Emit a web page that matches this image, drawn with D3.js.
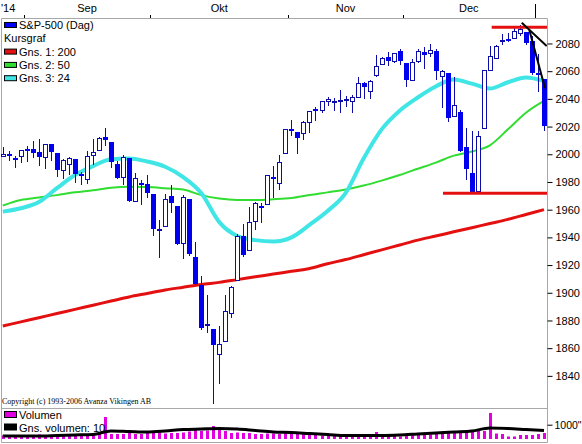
<!DOCTYPE html>
<html>
<head>
<meta charset="utf-8">
<script src="https://cdn.jsdelivr.net/npm/d3@7"></script>
<style>
  body { margin: 0; background: white; }
  text { font-family: "Liberation Sans", Arial, sans-serif; font-size: 11px; fill: #000; }
  .copy { font-family: "Liberation Serif", serif; font-size: 8px; }
</style>
</head>
<body>
<script>
// S&P-500 daily candles, Aug 2014 - Jan 2015, with moving averages and volume

// trading days shown in the chart
var days = [
  "2014-08-26","2014-08-27","2014-08-28","2014-08-29",
  "2014-09-02","2014-09-03","2014-09-04","2014-09-05","2014-09-08","2014-09-09","2014-09-10","2014-09-11","2014-09-12",
  "2014-09-15","2014-09-16","2014-09-17","2014-09-18","2014-09-19","2014-09-22","2014-09-23","2014-09-24","2014-09-25",
  "2014-09-26","2014-09-29","2014-09-30",
  "2014-10-01","2014-10-02","2014-10-03","2014-10-06","2014-10-07","2014-10-08","2014-10-09","2014-10-10","2014-10-13",
  "2014-10-14","2014-10-15","2014-10-16","2014-10-17","2014-10-20","2014-10-21","2014-10-22","2014-10-23","2014-10-24",
  "2014-10-27","2014-10-28","2014-10-29","2014-10-30","2014-10-31",
  "2014-11-03","2014-11-04","2014-11-05","2014-11-06","2014-11-07","2014-11-10","2014-11-11","2014-11-12","2014-11-13",
  "2014-11-14","2014-11-17","2014-11-18","2014-11-19","2014-11-20","2014-11-21","2014-11-24","2014-11-25","2014-11-26",
  "2014-11-28",
  "2014-12-01","2014-12-02","2014-12-03","2014-12-04","2014-12-05","2014-12-08","2014-12-09","2014-12-10","2014-12-11",
  "2014-12-12","2014-12-15","2014-12-16","2014-12-17","2014-12-18","2014-12-19","2014-12-22","2014-12-23","2014-12-24",
  "2014-12-26","2014-12-29","2014-12-30","2014-12-31",
  "2015-01-02","2015-01-05"
];

var open = [
  1998.6,2000.5,1997.4,1998.5,
  2004.1,2003.6,2001.7,1998.0,2007.2,2000.7,1988.4,1992.9,1996.7,
  1986.0,1981.9,1999.3,2003.1,2012.7,2009.1,1992.8,1983.3,1997.3,
  1966.2,1979.0,1978.2,
  1971.4,1945.8,1948.1,1970.0,1962.4,1935.6,1967.7,1925.6,1905.7,
  1877.1,1874.2,1856.0,1864.9,1885.6,1909.4,1941.3,1931.0,1951.6,
  1963.0,1964.1,1983.3,1979.5,2001.2,
  2018.2,2015.8,2015.3,2023.3,2032.4,2032.0,2038.2,2037.8,2039.2,
  2039.7,2038.3,2041.5,2051.2,2045.9,2057.5,2065.1,2070.2,2067.4,
  2074.8,
  2065.8,2053.8,2067.5,2073.6,2072.8,2074.8,2056.6,2058.9,2027.9,
  2030.4,2005.0,1986.7,1973.8,2019.0,2061.0,2069.3,2081.5,2083.3,
  2084.3,2087.6,2088.5,2082.1,
  2058.9,2054.4
];

var high = [
  2005.0,2002.1,1998.6,2003.4,
  2006.1,2009.3,2011.2,2007.7,2007.2,2001.0,1996.7,1997.7,1996.7,
  1987.2,2002.3,2010.7,2012.3,2019.3,2009.1,1995.4,1999.8,1997.3,
  1986.4,1981.3,1985.2,
  1971.4,1952.3,1971.2,1977.8,1962.4,1970.4,1967.7,1937.0,1912.1,
  1898.7,1874.2,1876.0,1898.2,1905.0,1942.5,1949.3,1962.0,1965.3,
  1964.6,1985.1,1991.4,1999.4,2018.2,
  2024.5,2016.0,2023.8,2031.6,2034.3,2038.7,2041.3,2040.3,2046.2,
  2042.2,2043.1,2056.1,2052.1,2053.8,2071.5,2070.2,2074.2,2073.3,
  2075.8,
  2065.8,2068.8,2076.3,2077.3,2079.5,2075.8,2060.6,2058.9,2055.5,
  2032.3,2018.7,2016.9,2016.8,2061.2,2077.9,2078.8,2086.7,2087.6,
  2092.7,2093.6,2088.5,2085.6,
  2072.4,2054.4
];

var low = [
  1998.6,1996.2,1990.5,1994.7,
  1994.9,1998.1,1992.4,1990.1,1995.6,1984.6,1983.0,1985.9,1980.3,
  1978.5,1979.1,1993.3,2003.1,2006.6,1991.0,1982.8,1978.6,1966.0,
  1966.2,1964.0,1969.0,
  1941.7,1926.0,1948.1,1958.4,1935.1,1925.3,1927.6,1906.1,1874.1,
  1871.8,1820.7,1835.0,1864.9,1882.3,1909.4,1926.8,1931.0,1946.3,
  1951.4,1964.1,1969.0,1974.8,2001.2,
  2013.7,2001.0,2010.9,2015.9,2025.1,2030.2,2035.3,2032.0,2030.4,
  2035.2,2030.2,2041.5,2040.4,2040.5,2056.8,2065.1,2064.8,2066.6,
  2065.1,
  2049.6,2053.8,2066.7,2062.3,2070.8,2054.3,2034.2,2024.3,2027.9,
  2002.3,1982.3,1972.6,1973.8,2019.0,2061.0,2069.3,2079.8,2081.9,
  2084.3,2085.8,2079.5,2057.9,
  2046.0,2017.3
];

var close = [
  2000.0,2000.1,1996.7,2003.4,
  2002.3,2000.7,1997.7,2007.7,2001.5,1988.4,1995.7,1997.5,1985.5,
  1984.1,1999.0,2001.6,2011.4,2010.4,1994.3,1982.8,1998.3,1966.0,
  1982.9,1977.8,1972.3,
  1946.2,1946.2,1967.9,1964.8,1935.1,1968.9,1928.2,1906.1,1874.7,
  1877.7,1862.5,1862.8,1886.8,1904.0,1941.3,1927.1,1950.8,1964.6,
  1961.6,1985.1,1982.3,1994.7,2018.1,
  2017.8,2012.1,2023.6,2031.2,2031.9,2038.3,2039.7,2038.3,2039.3,
  2039.8,2041.3,2051.8,2048.7,2052.8,2063.5,2069.4,2067.0,2072.8,
  2067.6,
  2053.4,2066.6,2074.3,2071.9,2075.4,2060.3,2059.8,2026.1,2035.3,
  2002.3,1989.6,1972.7,2012.9,2061.2,2070.7,2078.5,2082.2,2081.9,
  2088.8,2090.6,2080.4,2058.9,
  2058.2,2020.6
];

// volume (same unit as the 1000" mark on the volume axis)
var volume = [
  245,245,245,245,
  280,280,315,280,280,315,280,280,315,
  315,350,350,350,1540,350,350,350,420,
  350,350,420,
  455,455,385,420,420,455,525,630,560,
  595,910,700,560,420,455,420,420,350,
  350,385,385,350,490,
  350,350,350,280,315,245,210,245,280,
  245,280,280,245,280,490,350,350,280,
  175,
  350,350,350,350,315,385,385,420,420,
  490,525,560,560,560,1820,385,350,175,
  175,280,280,280,
  350,420
];

// moving averages, one value every third trading day
var ma200 = [1876,1879,1882,1885,1888,1891,1894,1897,1899.5,1902,1904,1906,1907.5,1909.5,1911.5,1913.5,
  1915.5,1917.5,1921,1924,1927.5,1931,1934.5,1938,1941,1944,1947,1950,1953,1956.5,1960];
var ma50 = [1963,1967,1968.8,1970.5,1972.5,1974,1975.8,1976.5,1976.3,1975.5,1974.5,1970.5,1968,1967,1967,1967.5,
  1968.4,1970.6,1972.5,1974.5,1977.4,1981,1985,1989.5,1994,1999,2002,2006.5,2018,2030,2038.5];
var ma24 = [1958.6,1961,1965.5,1975.5,1985,1991.5,1996.4,1997,1994.8,1991,1983.5,1972,1951,1941,1938,1937,
  1940,1949,1959,1972,1997,2018,2031.5,2041,2049,2054,2051,2047.5,2052,2055.5,2053];
var volMa10 = [210,210,210,245,280,315,559,524,490,559,664,699,734,699,594,490,
  455,385,315,245,245,245,280,350,420,490,559,769,734,664,594];

// month labels on the top axis and the first trading day of each month
var monthNames = ["Sep", "Okt", "Nov", "Dec"];
var monthFirst = ["2014-09-02", "2014-10-01", "2014-11-03", "2014-12-01", "2015-01-02"];
var yearLabel = "'14";

// hand drawn support / resistance lines [day position, price]
var supportLine = [[73.2, 1971.8], [90.5, 1971.8]];
var resistLine = [[81.3, 2091.7], [90.5, 2091.7]];
var trendLines = [
  [[86.3, 2095.0], [90.45, 2078.2]],
  [[87.56, 2089.7], [90.17, 2047.7]]
];

var priceTicks = d3.range(1840, 2081, 20);

// svg layout
var width = 582, height = 444;
var left = 1, right = 547, priceTop = 18, priceBottom = 408, volBottom = 442;

var svg = d3.select("body").append("svg")
  .attr("width", width)
  .attr("height", height)
  .style("background", "white");

// scales
var x = d3.scaleLinear().domain([0, days.length - 1]).range([2.8, 544]);
var y = d3.scaleLinear().domain([1816.8, 2098.4]).range([priceBottom, priceTop]);
var yVol = d3.scaleLinear().domain([0, 1000]).range([439, 424.7]);

var sampleIdx = days.map(function (d, i) { return i; }).filter(function (i) { return i % 3 === 0; });

svg.append("clipPath").attr("id", "priceClip")
  .append("rect").attr("x", left).attr("y", priceTop).attr("width", right - left).attr("height", priceBottom - priceTop);
svg.append("clipPath").attr("id", "volClip")
  .append("rect").attr("x", left).attr("y", priceBottom).attr("width", right - left).attr("height", volBottom - priceBottom);

// frames
svg.append("path")
  .attr("d", "M" + (left + 0.5) + "," + (priceTop + 0.5) + "H" + (right + 0.5) + "V" + (volBottom + 0.5) + "H" + (left + 0.5) + "Z" +
    "M" + (left + 0.5) + "," + (priceBottom + 0.5) + "H" + (right + 0.5))
  .attr("fill", "none")
  .attr("stroke", "#a8a8a8");

// top axis: month ticks and labels
var tickX = monthFirst.map(function (d) { return x(days.indexOf(d) - 0.5); });
svg.selectAll(".mtick").data(tickX).enter().append("line")
  .attr("x1", function (d) { return Math.round(d) + 0.5; })
  .attr("x2", function (d) { return Math.round(d) + 0.5; })
  .attr("y1", function (d, i) { return i === tickX.length - 1 ? 4 : 15; })
  .attr("y2", priceTop)
  .attr("stroke", "#000");

svg.append("text").attr("x", 1).attr("y", 11.5).text(yearLabel);
svg.selectAll(".mlabel").data(monthNames).enter().append("text")
  .attr("x", function (d, i) { return x((days.indexOf(monthFirst[i]) + days.indexOf(monthFirst[i + 1])) / 2 - 0.5); })
  .attr("y", 11.5)
  .attr("text-anchor", "middle")
  .text(function (d) { return d; });

// right price axis
var axis = svg.append("g")
  .attr("transform", "translate(" + (right + 0.5) + ",0)")
  .call(d3.axisRight(y).tickValues(priceTicks).tickSize(5).tickPadding(3).tickFormat(d3.format("d")));
axis.select(".domain").remove();
axis.selectAll("text").attr("font-family", null).attr("font-size", null);

var volAxis = svg.append("g")
  .attr("transform", "translate(" + (right + 0.5) + ",0)")
  .call(d3.axisRight(yVol).tickValues([1000]).tickSize(5).tickPadding(2)
    .tickFormat(function (d) { return d + '"'; }));
volAxis.select(".domain").remove();
volAxis.selectAll("text").attr("font-family", null).attr("font-size", null).style("font-size", "10.5px");

// moving average lines
var maLine = d3.line()
  .x(function (d) { return x(d[0]); })
  .y(function (d) { return y(d[1]); })
  .curve(d3.curveMonotoneX);

var priceG = svg.append("g").attr("clip-path", "url(#priceClip)");

[[ma200, "#e41010", 3], [ma50, "#30dd30", 2], [ma24, "#40e6e6", 4]].forEach(function (m) {
  priceG.append("path")
    .datum(sampleIdx.map(function (i, k) { return [i, m[0][k]]; }))
    .attr("fill", "none")
    .attr("stroke", m[1])
    .attr("stroke-width", m[2])
    .attr("d", maLine);
});

// candles
var candles = priceG.selectAll(".candle").data(days).enter().append("g");
candles.append("line")
  .attr("x1", function (d, i) { return Math.round(x(i)) + 0.5; })
  .attr("x2", function (d, i) { return Math.round(x(i)) + 0.5; })
  .attr("y1", function (d, i) { return Math.round(y(high[i])); })
  .attr("y2", function (d, i) { return Math.round(y(low[i])) + 1; })
  .attr("stroke", "#0c0ca8");
candles.append("rect")
  .each(function (d, i) {
    var cx = Math.round(x(i));
    var top = Math.round(y(Math.max(open[i], close[i])));
    var bot = Math.round(y(Math.min(open[i], close[i])));
    var up = close[i] >= open[i];
    var r = d3.select(this);
    if (up) {
      r.attr("x", cx - 1.5).attr("y", top + 0.5).attr("width", 4).attr("height", Math.max(bot - top, 1))
        .attr("fill", "white").attr("stroke", "#0c0ca8");
    } else {
      r.attr("x", cx - 2).attr("y", top).attr("width", 5).attr("height", Math.max(bot - top, 2))
        .attr("fill", "#0000ee");
    }
  });

// support, resistance and trend lines
var plainLine = d3.line()
  .x(function (d) { return x(d[0]); })
  .y(function (d) { return y(d[1]); });

[supportLine, resistLine].forEach(function (l) {
  priceG.append("path").datum(l).attr("d", plainLine)
    .attr("stroke", "#e41010").attr("stroke-width", 3).attr("fill", "none");
});
trendLines.forEach(function (l) {
  priceG.append("path").datum(l).attr("d", plainLine)
    .attr("stroke", "#000").attr("stroke-width", 2).attr("fill", "none");
});

// legend of the price panel
var legendRows = [
  { label: "S&P-500 (Dag)", color: "#0000ff" },
  { label: "Kursgraf", color: null },
  { label: "Gns. 1: 200", color: "#e41010" },
  { label: "Gns. 2: 50", color: "#30dd30" },
  { label: "Gns. 3: 24", color: "#40e6e6" }
];
var legend = svg.selectAll(".legend").data(legendRows).enter().append("g")
  .attr("transform", function (d, i) { return "translate(0," + (29 + i * 13.3) + ")"; });
legend.filter(function (d) { return d.color; }).append("rect")
  .attr("x", 4.5).attr("y", -6.5).attr("width", 12).attr("height", 5)
  .attr("fill", function (d) { return d.color; })
  .attr("stroke", "#000");
legend.append("text")
  .attr("x", function (d) { return d.color ? 19 : 4; })
  .text(function (d) { return d.label; });

svg.append("text").attr("class", "copy").attr("x", 2).attr("y", 404)
  .text("Copyright (c) 1993-2006 Avanza Vikingen AB");

// volume panel
var volG = svg.append("g").attr("clip-path", "url(#volClip)");
volG.selectAll(".vbar").data(volume).enter().append("rect")
  .attr("x", function (d, i) { return Math.round(x(i)) - 1; })
  .attr("y", function (d) { return yVol(d); })
  .attr("width", 3)
  .attr("height", function (d) { return yVol(0) - yVol(d); })
  .attr("fill", "#e000e0");

volG.append("path")
  .datum(sampleIdx.map(function (i, k) { return [i, volMa10[k]]; }))
  .attr("fill", "none")
  .attr("stroke", "#000")
  .attr("stroke-width", 3)
  .attr("d", d3.line()
    .x(function (d) { return x(d[0]); })
    .y(function (d) { return yVol(d[1]); })
    .curve(d3.curveMonotoneX));

var volLegend = [
  { label: "Volumen", color: "#e000e0", y: 419 },
  { label: "Gns. volumen: 10", color: "#000", y: 431.5 }
];
var vl = svg.selectAll(".vlegend").data(volLegend).enter().append("g")
  .attr("transform", function (d) { return "translate(0," + d.y + ")"; });
vl.append("rect")
  .attr("x", 4.5).attr("y", -7.5).attr("width", 12).attr("height", 6)
  .attr("fill", function (d) { return d.color; })
  .attr("stroke", "#000");
vl.append("text").attr("x", 19).text(function (d) { return d.label; });
</script>
</body>
</html>
